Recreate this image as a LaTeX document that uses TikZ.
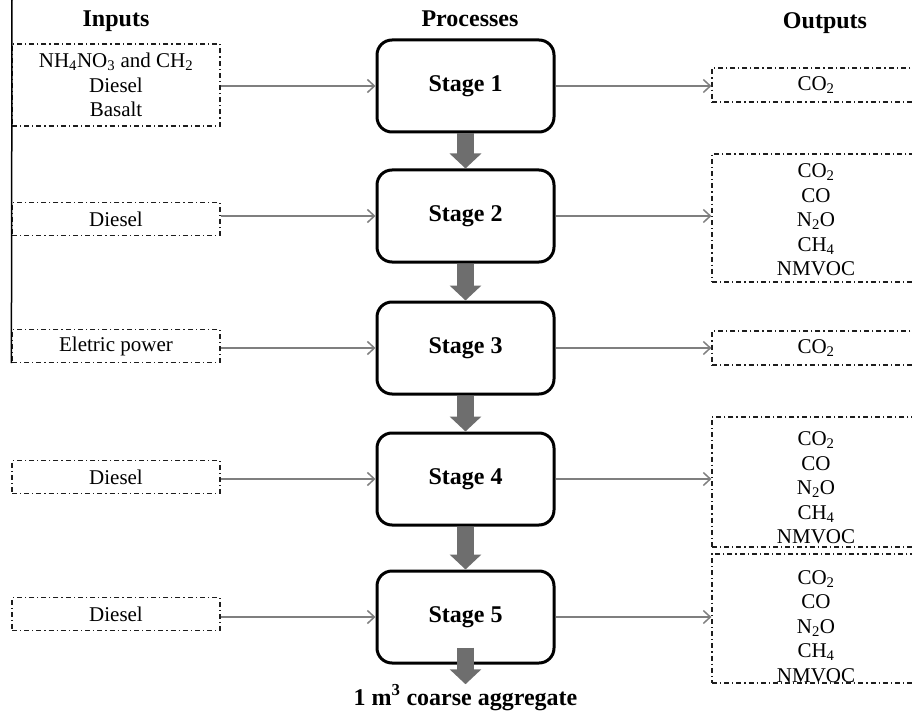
\documentclass[tikz,border=0pt]{standalone}
\usepackage{fontspec}
\setmainfont{Liberation Serif}
\usetikzlibrary{arrows.meta, calc}
\definecolor{cthin}{HTML}{7F7F7F}
\definecolor{cfat}{HTML}{6E6E6E}
\definecolor{cedge}{HTML}{1E1E1E}
\tikzset{
  every picture/.style={line width=1.2pt},
  stage/.style={draw=black, line width=3pt, rounded corners=15pt, minimum width=177pt, minimum height=92pt, font=\fontsize{24}{28}\selectfont\bfseries},
  flowbox/.style={draw=cedge, line width=1.2pt, dash pattern=on 5pt off 3pt on 1.2pt off 3pt, minimum width=208pt, minimum height=#1, inner sep=0pt, align=center, font=\fontsize{21}{24.5}\selectfont},
  flowbox/.default=33pt,
  feed/.style={-{Straight Barb[length=7pt, width=13pt]}, draw=cthin, line width=1.5pt},
  fat/.style={-{Triangle[length=15pt, width=31pt]}, draw=cfat, line width=17pt},
  head/.style={font=\fontsize{24}{28}\selectfont\bfseries, anchor=base},
}
\newcommand{\gasstack}[1]{\raisebox{-#1}[0pt][0pt]{\begin{tabular}{@{}c@{}}CO\textsubscript{2}\\CO\\N\textsubscript{2}O\\CH\textsubscript{4}\\NMVOC\end{tabular}}}

\begin{document}
\begin{tikzpicture}[x=1pt, y=-1pt]
  \clip (0,0) rectangle (912,714);
  \node[head] (hin) at (116,27) {Inputs};
  \node[head] (hpro) at (470,27) {Processes};
  \node[head] (hout) at (825,29) {Outputs};
  % processes
  \foreach \n/\y in {1/86, 2/216, 3/348, 4/479, 5/617}
    \node[stage] (s\n) at (465.5,\y) {Stage \n};
  % inputs
  \node[flowbox=82pt] (i1) at (116,85) {NH\textsubscript{4}NO\textsubscript{3} and CH\textsubscript{2}\\Diesel\\Basalt};
  \node[flowbox] (i2) at (116,219) {Diesel};
  \node[flowbox] (i3) at (116,346) {Eletric power};
  \node[flowbox] (i4) at (116,477) {Diesel};
  \node[flowbox] (i5) at (116,614) {Diesel};
  \coordinate (rail) at (12,0);
  \draw[line width=1.5pt] (rail) -- (i3.south west);
  % outputs
  \node[flowbox=34pt] (o1) at (816,85) {CO\textsubscript{2}};
  \node[flowbox=128pt] (o2) at (816,218) {\gasstack{9pt}};
  \node[flowbox=34pt] (o3) at (816,348) {CO\textsubscript{2}};
  \node[flowbox=130pt] (o4) at (816,482) {\gasstack{13pt}};
  \node[flowbox=129pt] (o5) at (816,618.5) {\gasstack{15pt}};
  \foreach \n in {1,...,5} {
    \draw[feed] (s\n.west -| i\n.east) -- (s\n.west);
    \draw[feed] (s\n.east) -- (s\n.east -| o\n.west);
  }
  \foreach \a/\b in {s1/s2, s2/s3, s3/s4, s4/s5}
    \draw[fat] (\a.south) -- (\b.north);
  \node[head, inner sep=0pt] (aggr) at (465.5,705) {1 m\textsuperscript{3} coarse aggregate};
  \draw[fat] ($(s5.south)+(0,-17)$) -- (aggr.north);
\end{tikzpicture}
\end{document}
